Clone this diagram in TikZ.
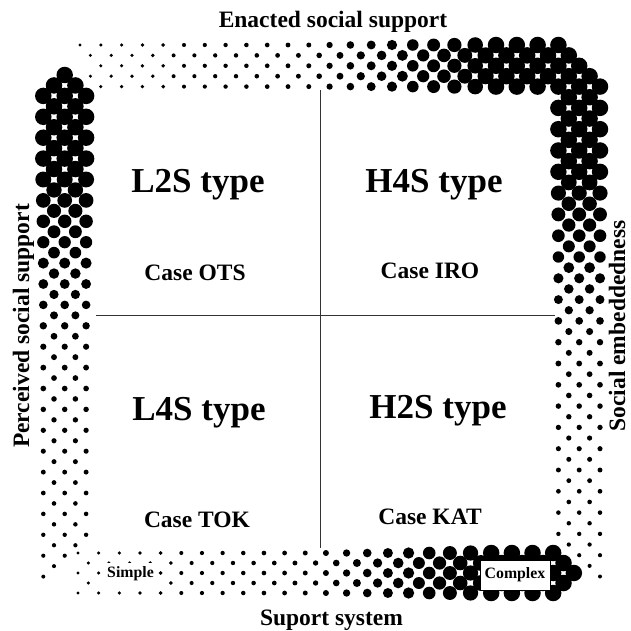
\documentclass[tikz,border=0pt]{standalone}
\usepackage{fontspec}
\setmainfont{Liberation Serif}
\begin{document}
\begin{tikzpicture}[x=1pt,y=-1pt,
  declare function={
    dh(\t) = (\t<310) ? 3.3+(\t-80)*1.7/230 : ((\t<490) ? 5+(\t-310)*11.5/180 : 16.5);
    dv(\t) = (\t<170) ? 16.5 : ((\t<350) ? 16.5-(\t-170)*10.5/180 : 6-(\t-350)*2/227);
  },
  dot/.style={fill=black},
  axislabel/.style={font=\fontsize{23.5}{26}\selectfont\bfseries, inner sep=0pt, anchor=base},
  typelabel/.style={font=\fontsize{35}{40}\selectfont\bfseries, inner sep=0pt, anchor=base},
  caselabel/.style={font=\fontsize{23.5}{26}\selectfont\bfseries, inner sep=0pt, anchor=base},
  endlabel/.style={font=\fontsize{15.8}{18}\selectfont\bfseries, fill=white, inner sep=0pt},
  divider/.style={line width=1pt, draw=black!80}
]
\useasboundingbox (0,0) rectangle (631,631);

% top band: dots grow from left to right
\foreach \j/\imin in {0/0,1/1,2/2,3/1,4/2}{
  \foreach \k in {0,...,25}{
    \pgfmathsetmacro\xx{80+10.4*(\imin+2*\k)}
    \pgfmathsetmacro\yy{45+10.4*\j}
    \pgfmathtruncatemacro\ok{(\xx-\yy<514.5) ? 1 : 0}
    \ifnum\ok=1
      \pgfmathsetmacro\rr{dh(\xx)/2}
      \fill[dot] (\xx,\yy) circle[radius=\rr pt];
    \fi
  }
}

% right band: dots shrink downwards
\foreach \j in {5,...,50}{
  \pgfmathsetmacro\yy{86.6+10.65*(\j-4)}
  \foreach \i in {46,...,50}{
    \pgfmathsetmacro\xx{80+10.4*\i}
    \pgfmathtruncatemacro\ok{and(iseven(\i+\j), \yy<=\xx-21)}
    \ifnum\ok=1
      \pgfmathsetmacro\rr{dv(\yy)/2}
      \fill[dot] (\xx,\yy) circle[radius=\rr pt];
    \fi
  }
}

% left band: dots shrink downwards
\foreach \k in {0,...,48}{
  \pgfmathsetmacro\yy{75+10.45*\k}
  \foreach \m in {0,...,4}{
    \pgfmathsetmacro\xx{43.3+10.7*\m}
    \pgfmathtruncatemacro\ok{and(iseven(\m+\k), and(\k>=abs(\m-2), \xx+\yy<=623))}
    \ifnum\ok=1
      \pgfmathsetmacro\rr{dv(\yy)/2}
      \fill[dot] (\xx,\yy) circle[radius=\rr pt];
    \fi
  }
}

% bottom band: dots grow from left to right
\foreach \j in {0,...,4}{
  \pgfmathsetmacro\yy{553+10*\j}
  \foreach \i in {0,...,49}{
    \pgfmathsetmacro\xx{78+10.33*\i}
    \pgfmathtruncatemacro\ok{and(iseven(\i+\j), \xx+abs(\yy-573)<=576.5)}
    \ifnum\ok=1
      \pgfmathsetmacro\rr{dh(\xx)/2}
      \fill[dot] (\xx,\yy) circle[radius=\rr pt];
    \fi
  }
}

% quadrant dividers
\coordinate (vtop) at (320,90);
\coordinate (vbot) at (320,548);
\coordinate (hleft) at (96,315);
\coordinate (hright) at (555,315);
\draw[divider] (vtop) -- (vbot);
\draw[divider] (hleft) -- (hright);

% axis labels
\node[axislabel] (enacted) at (333,28) {Enacted social support};
\node[axislabel] (suport) at (331.5,625) {Suport system};
\node[axislabel, rotate=90] (perceived) at (29,326) {Perceived social support};
\node[axislabel, rotate=90] (embedded) at (625,326) {Social embeddedness};

% quadrant types and cases
\node[typelabel] (l2s) at (198,193) {L2S type};
\node[typelabel] (h4s) at (434,193) {H4S type};
\node[typelabel] (l4s) at (199,420) {L4S type};
\node[typelabel] (h2s) at (438,418) {H2S type};
\node[caselabel] (ots) at (195,280) {Case OTS};
\node[caselabel] (iro) at (430,278) {Case IRO};
\node[caselabel] (tok) at (197,527) {Case TOK};
\node[caselabel] (kat) at (430,524) {Case KAT};

% scale ends
\node[endlabel, minimum width=55pt, minimum height=22pt] (simple) at (130.5,573.5) {Simple};
\node[endlabel, draw=black, line width=0.8pt, minimum width=70pt, minimum height=30pt] (complex) at (515,575) {Complex};
\end{tikzpicture}
\end{document}
